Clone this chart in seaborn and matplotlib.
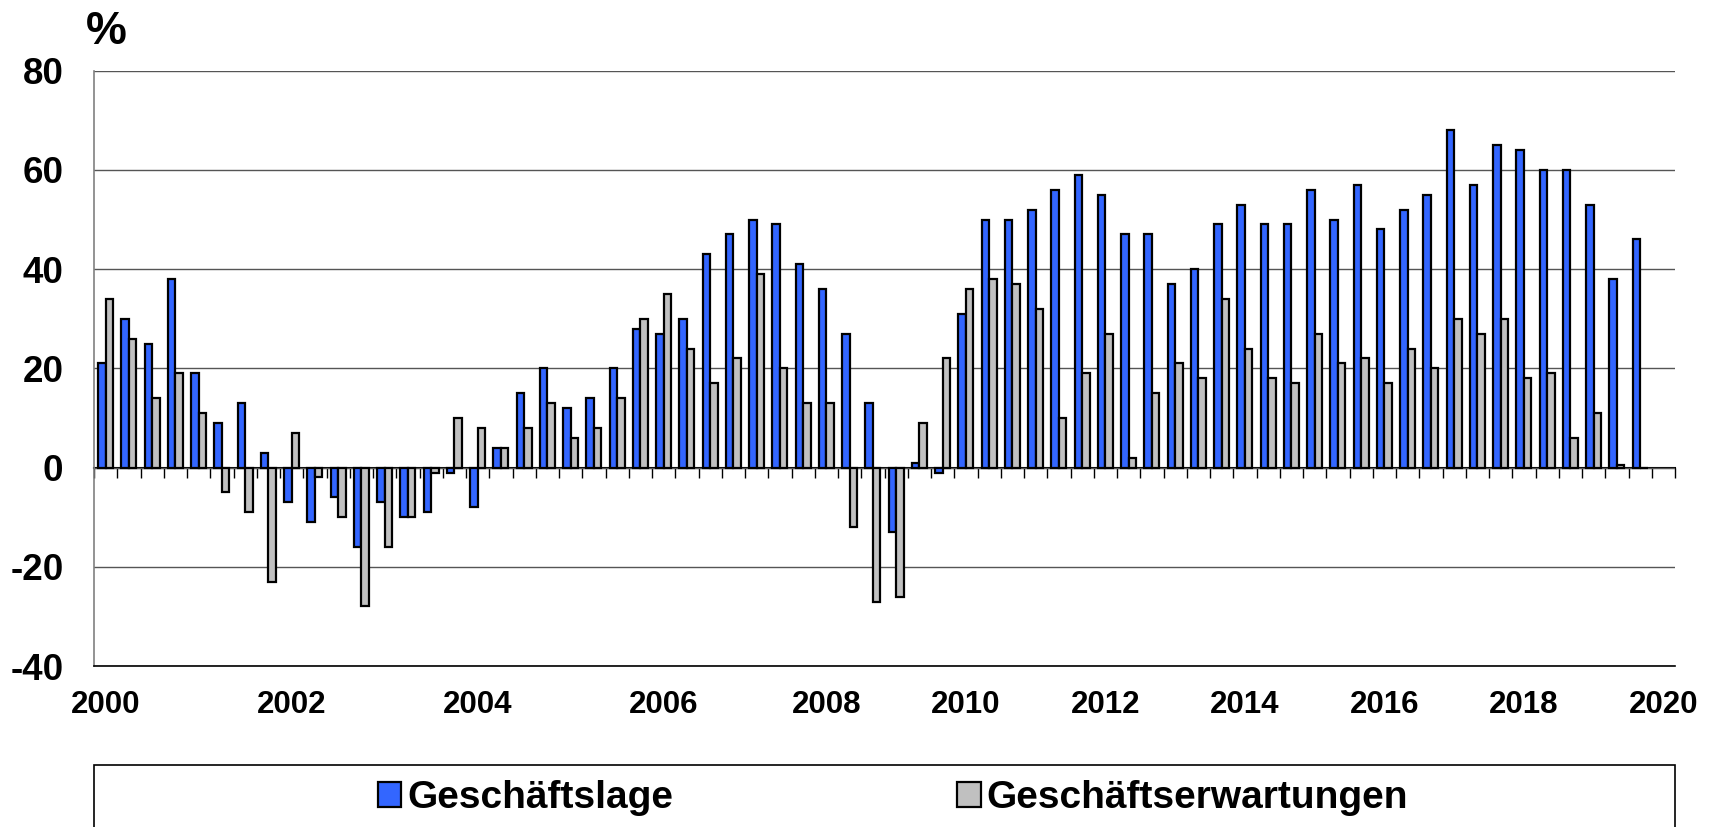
import numpy as np
import pandas as pd
import matplotlib
matplotlib.use("Agg")
import matplotlib.pyplot as plt
import matplotlib.patches as mpatches
import seaborn as sns

# quarterly survey balances (%), one pair per category slot
lage = [21, 30, 25, 38, 19, 9, 13, 3, -7, -11, -6, -16, -7, -10, -9, -1, -8, 4,
        15, 20, 12, 14, 20, 28, 27, 30, 43, 47, 50, 49, 41, 36, 27, 13, -13, 1,
        -1, 31, 50, 50, 52, 56, 59, 55, 47, 47, 37, 40, 49, 53, 49, 49, 56, 50,
        57, 48, 52, 55, 68, 57, 65, 64, 60, 60, 53, 38, 46]
erwartungen = [34, 26, 14, 19, 11, -5, -9, -23, 7, -2, -10, -28, -16, -10, -1, 10,
               8, 4, 8, 13, 6, 8, 14, 30, 35, 24, 17, 22, 39, 20, 13, 13, -12, -27,
               -26, 9, 22, 36, 38, 37, 32, 10, 19, 27, 2, 15, 21, 18, 34, 24, 18, 17,
               27, 21, 22, 17, 24, 20, 30, 27, 30, 18, 19, 6, 11, 0.5, 0]
n_slots = 68  # last slot stays empty
year_slots = [0, 8, 16, 24, 31, 37, 43, 49, 55, 61, 67]
year_labels = ["2000", "2002", "2004", "2006", "2008", "2010",
               "2012", "2014", "2016", "2018", "2020"]
series_names = ["Geschäftslage", "Geschäftserwartungen"]
colors = ["#3366FF", "#C0C0C0"]

slots = list(range(len(lage)))
df = pd.DataFrame({
    "slot": slots * 2,
    "series": [series_names[0]] * len(lage) + [series_names[1]] * len(erwartungen),
    "value": lage + erwartungen,
})

sns.set_theme(style="white")
plt.rcParams["font.family"] = ["Liberation Sans", "DejaVu Sans"]
plt.rcParams["font.weight"] = "bold"
plt.rcParams["text.color"] = "black"
plt.rcParams["xtick.labelcolor"] = "black"
plt.rcParams["ytick.labelcolor"] = "black"
plt.rcParams["axes.unicode_minus"] = False

fig = plt.figure(figsize=(17.13, 8.27), dpi=100)
ax = fig.add_axes([94 / 1713, 1 - 666 / 827, (1675 - 94) / 1713, (666 - 70.7) / 827])

sns.barplot(
    data=df, x="slot", y="value", hue="series",
    order=list(range(n_slots)), hue_order=series_names,
    palette=colors, saturation=1, width=0.64,
    edgecolor="black", linewidth=1.6, ax=ax,
)

ax.set_xlim(-0.5, n_slots - 0.5)
ax.set_ylim(-40, 80)
ax.set_yticks(np.arange(-40, 81, 20))
ax.yaxis.grid(True, color="#555555", linewidth=1.0)
ax.set_axisbelow(True)
ax.tick_params(axis="y", direction="out", length=8, width=1.0, color="#555555",
               pad=14, labelsize=26.5)
for lbl in ax.get_yticklabels():
    lbl.set_fontweight("bold")

ax.set_xticks(year_slots)
ax.set_xticklabels(year_labels, fontsize=22.5, fontweight="bold")
ax.tick_params(axis="x", length=0, pad=17)
ax.set_xlabel("")
ax.set_ylabel("")

for side in ["top", "right"]:
    ax.spines[side].set_visible(False)
ax.spines["left"].set_color("#808080")
ax.spines["left"].set_linewidth(1.2)
ax.spines["bottom"].set_color("black")
ax.spines["bottom"].set_linewidth(1.2)

# category axis crossing at zero with boundary ticks
zero_axis = ax.secondary_xaxis(40 / 120)
zero_axis.set_xticks(np.arange(n_slots + 1) - 0.5)
zero_axis.tick_params(direction="out", length=7, width=1.0, labelbottom=False,
                      labeltop=False, color="black")
zero_axis.spines["bottom"].set_linewidth(1.5)
zero_axis.spines["bottom"].set_color("black")

fig.text(86 / 1713, 1 - 32 / 827, "%", fontsize=33, fontweight="bold",
         ha="left", va="center")

handles, labels = ax.get_legend_handles_labels()
ax.get_legend().remove()
fig.legend(handles, labels, loc="center", bbox_to_anchor=(893 / 1713, 1 - 798 / 827),
           ncol=2, frameon=False, prop={"size": 28, "weight": "bold"},
           handlelength=0.6, handleheight=0.6, handletextpad=0.15,
           columnspacing=7.3)

box = mpatches.Rectangle((94 / 1713, -0.05), (1675 - 94) / 1713, 0.05 + 1 - 765 / 827,
                         transform=fig.transFigure, fill=False, edgecolor="black",
                         linewidth=1.2, clip_on=False)
fig.patches.append(box)

fig.savefig("out.png", dpi=100)
